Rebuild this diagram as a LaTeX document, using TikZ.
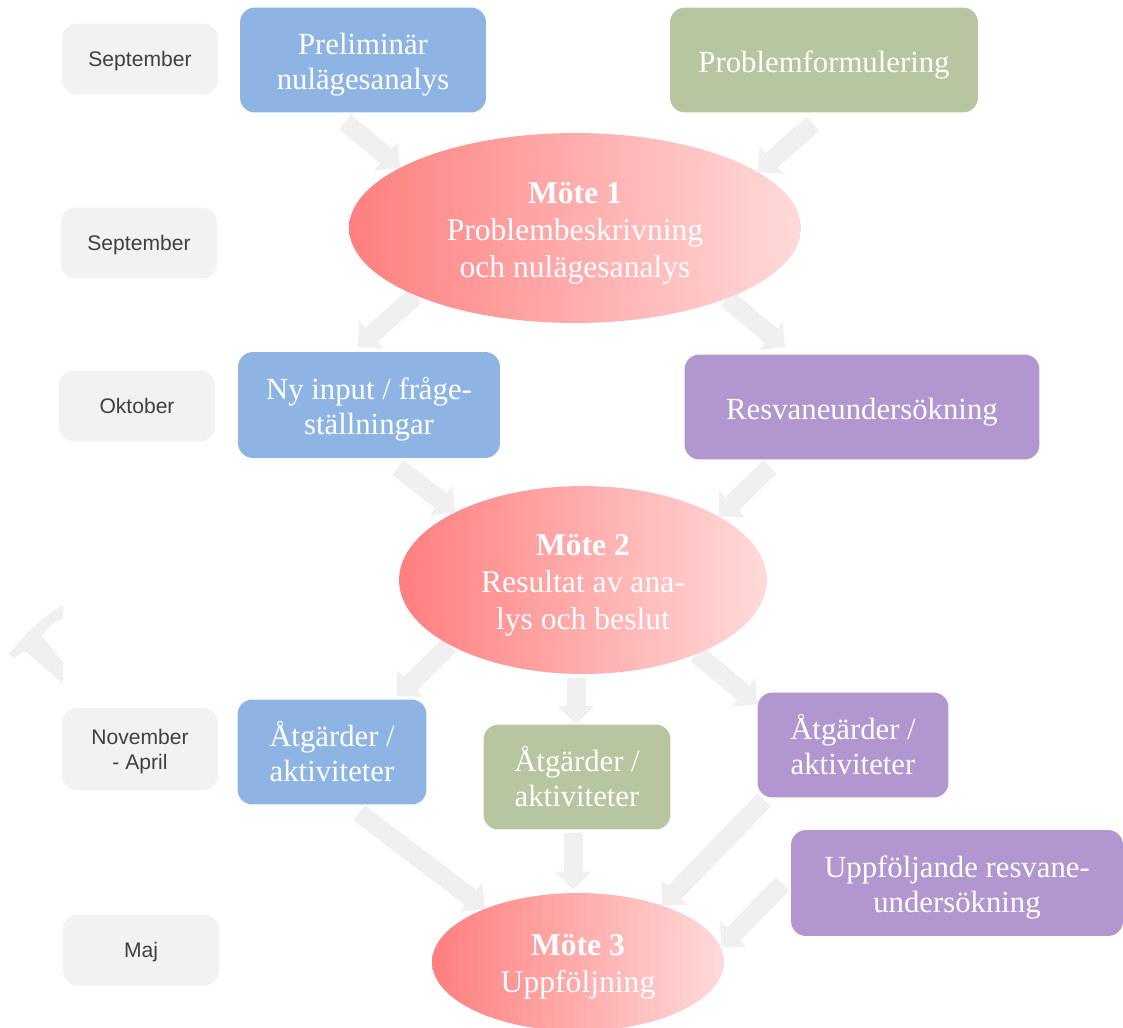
\documentclass[tikz,border=0pt]{standalone}
\usepackage{fontspec}
\setmainfont{Liberation Serif}
\newfontfamily\monthfont{Liberation Sans}
\usetikzlibrary{shapes.geometric,arrows.meta,backgrounds}

\definecolor{boxblue}{HTML}{8EB4E3}
\definecolor{boxgreen}{HTML}{B7C6A0}
\definecolor{boxpurple}{HTML}{B196D0}
\definecolor{monthgray}{HTML}{F2F2F2}
\definecolor{monthtext}{HTML}{404040}
\definecolor{flowgray}{HTML}{F0F0F0}
\definecolor{meetleft}{HTML}{FF7F7F}
\definecolor{meetright}{HTML}{FFDADA}

% text set a little lower in its box
\newcommand{\lowtext}[2][0.1cm]{\raisebox{-#1}[\height][\depth]{\begin{tabular}{@{}c@{}}#2\end{tabular}}}

\begin{document}
\begin{tikzpicture}[x=0.02cm, y=-0.02cm,
	month/.style={fill=monthgray, rounded corners=0.3cm, minimum width=3.12cm, minimum height=1.42cm, text=monthtext, font=\monthfont\fontsize{12}{14}\selectfont},
	task/.style={rounded corners=0.3cm, minimum height=2.1cm, text=white, font=\fontsize{17.5}{20}\selectfont},
	meeting/.style={ellipse, inner sep=0pt, left color=meetleft, right color=meetright, text=white, font=\fontsize{18}{21}\selectfont},
	flow/.style={draw=flowgray, line width=0.38cm, -{Triangle[width=0.74cm, length=0.36cm, line width=0pt]}}
	]
	\useasboundingbox (0,0) rectangle (1123,1028);
	
	% months
	\node[month] (sep1) at (140,59) {\lowtext[0.05cm]{September}};
	\node[month] (sep2) at (139,243) {\lowtext[0.05cm]{September}};
	\node[month] (okt) at (137,406) {\lowtext[0.05cm]{Oktober}};
	\node[month, minimum height=1.64cm] (nov) at (140,749) {\lowtext[0.06cm]{November\\- April}};
	\node[month] (maj) at (141,950) {\lowtext[0.05cm]{Maj}};
	
	\node[task, fill=boxblue, minimum width=4.92cm] (prel) at (363,60) {\lowtext{Preliminär\\nulägesanalys}};
	\node[task, fill=boxgreen, minimum width=6.16cm] (prob) at (824,60) {\lowtext{Problemformulering}};
	\node[meeting, minimum width=9.04cm, minimum height=3.8cm] (m1) at (575,228)
		{\lowtext{\textbf{Möte 1}\\Problembeskrivning\\och nulägesanalys}};
	
	\node[task, fill=boxblue, minimum width=5.24cm, minimum height=2.12cm] (ny) at (369,405) {\lowtext{Ny input / fråge-\\ställningar}};
	\node[task, fill=boxpurple, minimum width=7.1cm] (resv) at (862,407) {\lowtext{Resvaneundersökning}};
	\node[meeting, minimum width=7.36cm, minimum height=3.76cm] (m2) at (583,580)
		{\lowtext{\textbf{Möte 2}\\Resultat av ana-\\lys och beslut}};
	
	\node[task, fill=boxblue, minimum width=3.78cm] (atgB) at (332,752) {\lowtext{Åtgärder /\\aktiviteter}};
	\node[task, fill=boxgreen, minimum width=3.74cm] (atgG) at (577,777) {\lowtext{Åtgärder /\\aktiviteter}};
	\node[task, fill=boxpurple, minimum width=3.82cm] (atgP) at (853,745) {\lowtext{Åtgärder /\\aktiviteter}};
	\node[task, fill=boxpurple, minimum width=6.64cm, minimum height=2.12cm] (uppf) at (957,883) {\lowtext{Uppföljande resvane-\\undersökning}};
	\node[meeting, minimum width=5.84cm, minimum height=2.76cm] (m3) at (578,962)
		{\lowtext{\textbf{Möte 3}\\Uppföljning}};
	
	\begin{pgfonlayer}{background}
		\draw[flow] ([shift={(-18,9)}]prel.south) -- (m1.161);
		\draw[flow] ([shift={(-11,11)}]prob.south) -- (m1.17);
		\draw[flow] (m1.203) -- ([shift={(-11,-5)}]ny.north);
		\draw[flow] (m1.335) -- ([shift={(-77,-7)}]resv.north);
		\draw[flow] ([shift={(29,9)}]ny.south) -- (m2.152);
		\draw[flow] ([shift={(-92,7)}]resv.south) -- (m2.25);
		\draw[flow] (m2.206) -- ([shift={(65,-3)}]atgB.north);
		\draw[flow] ([shift={(-7,4)}]m2.south) -- ([shift={(-1,0)}]atgG.north);
		\draw[flow] (m2.327) -- ([shift={(0,12)}]atgP.north west);
		\draw[flow] ([shift={(27,8)}]atgB.south) -- (m3.150);
		\draw[flow] ([shift={(-4,3)}]atgG.south) -- ([shift={(-5,-3)}]m3.north);
		\draw[flow] ([shift={(7,2)}]atgP.south west) -- (m3.34);
		\draw[flow] ([shift={(-8,1)}]uppf.west) -- (m3.6);
		
		% cut-off arrow at the left edge
		\fill[flowgray] (63,605) .. controls (40,618) and (22,638) .. (9,654) -- (13,658) -- (25,651)
			-- (63,684) -- (63,662) -- (42,636) .. controls (48,627) and (55,621) .. (63,619) -- cycle;
	\end{pgfonlayer}
\end{tikzpicture}
\end{document}
